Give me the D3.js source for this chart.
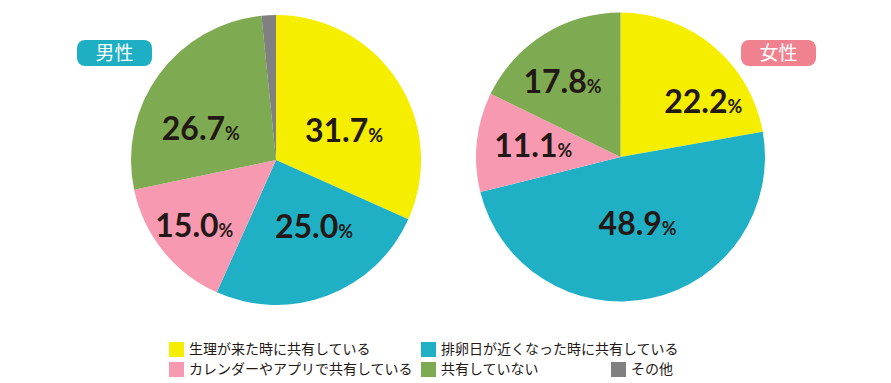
<!DOCTYPE html>
<html><head><meta charset="utf-8">
<script src="https://cdn.jsdelivr.net/npm/d3@7"></script>
<style>body{margin:0;background:#fff}svg{display:block}</style>
</head><body>
<svg id="c" width="891" height="383"></svg>
<script>
const categories = ["生理が来た時に共有している","排卵日が近くなった時に共有している","カレンダーやアプリで共有している","共有していない","その他"];
const colors = ["#f6ee00","#1fb0c5","#f899b2","#7eab51","#808080"];
const maleValues = [31.7, 25.0, 15.0, 26.7, 1.6];
const femaleValues = [22.2, 48.9, 11.1, 17.8, 0];
const maleLabels = ["31.7","25.0","15.0","26.7",""];
const femaleLabels = ["22.2","48.9","11.1","17.8",""];
const groups = ["男性","女性"];

const svg = d3.select("#c");
const pies = [
  {name:groups[0], values:maleValues, labels:maleLabels, cx:276, cy:160, r:145, badge:{x:77,y:40,c:"#1fafc4"},
   nudge:[[-5,18],[7,-14],[-14,11],[-5,20],[0,0]]},
  {name:groups[1], values:femaleValues, labels:femaleLabels, cx:620.5, cy:157, r:144.5, badge:{x:741,y:40,c:"#f0818f"},
   nudge:[[27,11],[-1,-18],[-1,-2],[-12,-2],[0,0]]}
];
const pie = d3.pie().sort(null).value(d=>d);
pies.forEach(p=>{
  const g = svg.append("g").attr("transform",`translate(${p.cx},${p.cy})`);
  const arc = d3.arc().innerRadius(0).outerRadius(p.r);
  const lab = d3.arc().innerRadius(p.r*0.6).outerRadius(p.r*0.6);
  const arcs = pie(p.values);
  g.selectAll("path").data(arcs).join("path")
    .attr("d",arc).attr("fill",(d,i)=>colors[i]);
  arcs.forEach((d,i)=>{
    if(!p.labels[i]) return;
    const [x,y] = lab.centroid(d);
    const t = g.append("text")
      .attr("x",x+p.nudge[i][0]).attr("y",y+p.nudge[i][1]+11)
      .attr("text-anchor","middle")
      .attr("font-family","Lato, 'DejaVu Sans', sans-serif")
      .attr("font-weight","bold").attr("fill","#231815");
    t.append("tspan").attr("font-size",32).text(p.labels[i]);
    t.append("tspan").attr("font-size",18).text("%");
  });
  svg.append("rect").attr("x",p.badge.x).attr("y",p.badge.y).attr("width",75).attr("height",26)
    .attr("rx",8).attr("fill",p.badge.c);
  svg.append("text").attr("x",p.badge.x+37.5).attr("y",p.badge.y+13)
    .attr("dy","0.35em").attr("text-anchor","middle")
    .attr("font-family","'Noto Sans CJK JP', sans-serif").attr("font-size",19)
    .attr("fill","#fff").text(p.name);
});

const legPos = [[169,342],[421,342],[169,362],[421,362],[611,362]];
const lg = svg.append("g");
categories.forEach((c,i)=>{
  const [x,y] = legPos[i];
  lg.append("rect").attr("x",x).attr("y",y).attr("width",15).attr("height",15).attr("fill",colors[i]);
  lg.append("text").attr("x",x+20).attr("y",y+7.5).attr("dy","0.35em")
    .attr("font-family","'Noto Sans CJK JP', sans-serif").attr("font-size",14)
    .attr("fill","#231815").text(c);
});
</script>
</body></html>
